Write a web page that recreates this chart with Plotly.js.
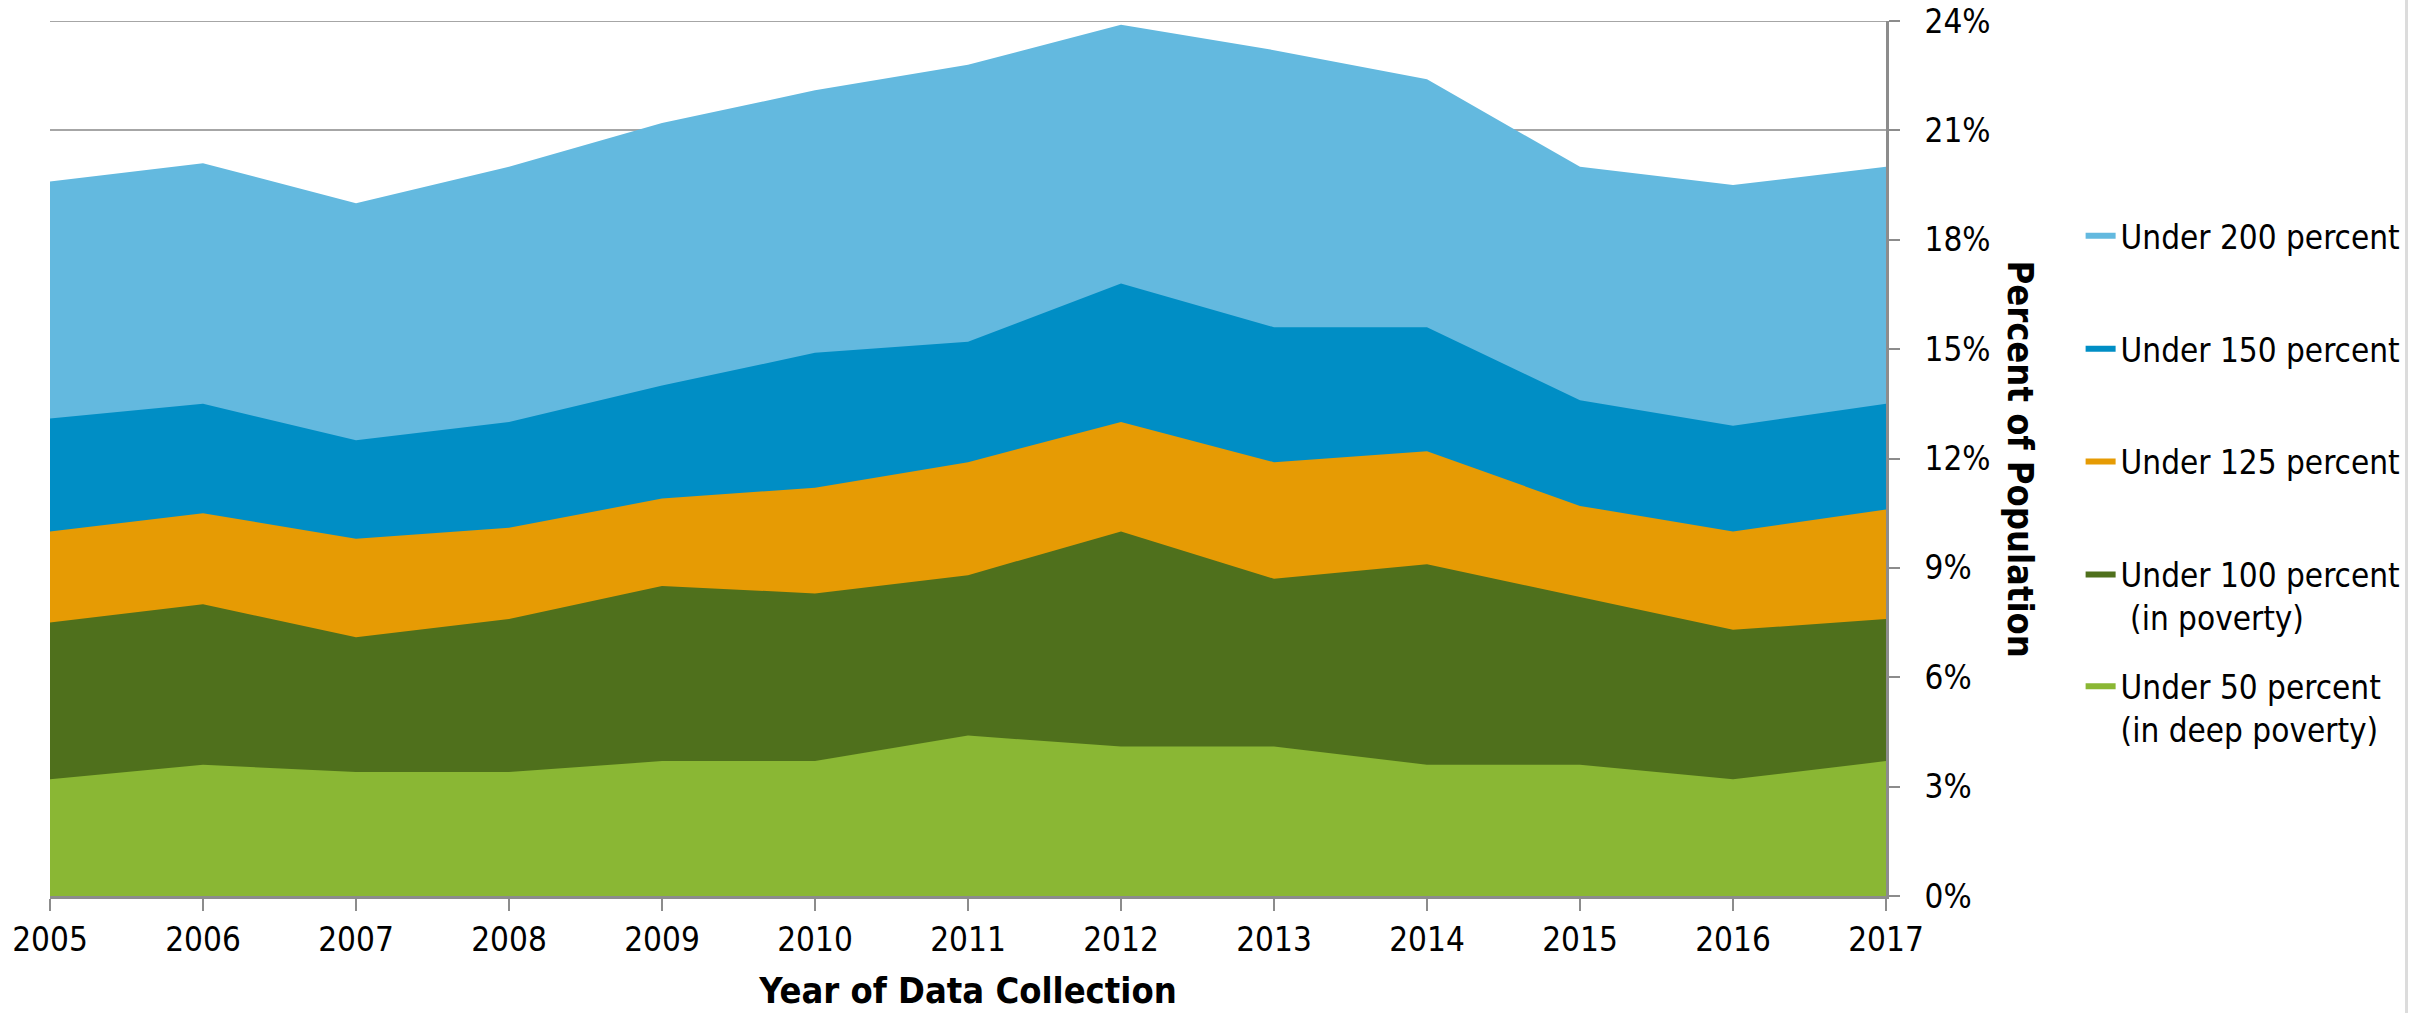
<!DOCTYPE html>
<html>
<head>
<meta charset="utf-8">
<script src="https://cdn.plot.ly/plotly-3.0.1.min.js"></script>
<style>
  html, body { margin: 0; padding: 0; background: #fff; }
  #chart { width: 2418px; height: 1013px; }
</style>
</head>
<body>
<div id="chart"></div>
<script>
  // share of population under each income-to-poverty threshold (cumulative levels, %)
  var years = [2005, 2006, 2007, 2008, 2009, 2010, 2011, 2012, 2013, 2014, 2015, 2016, 2017];
  var under200 = [19.6, 20.1, 19.0, 20.0, 21.2, 22.1, 22.8, 23.9, 23.2, 22.4, 20.0, 19.5, 20.0];
  var under150 = [13.1, 13.5, 12.5, 13.0, 14.0, 14.9, 15.2, 16.8, 15.6, 15.6, 13.6, 12.9, 13.5];
  var under125 = [10.0, 10.5, 9.8, 10.1, 10.9, 11.2, 11.9, 13.0, 11.9, 12.2, 10.7, 10.0, 10.6];
  var under100 = [7.5, 8.0, 7.1, 7.6, 8.5, 8.3, 8.8, 10.0, 8.7, 9.1, 8.2, 7.3, 7.6];
  var under50 = [3.2, 3.6, 3.4, 3.4, 3.7, 3.7, 4.4, 4.1, 4.1, 3.6, 3.6, 3.2, 3.7];

  var seriesNames = [
    'Under 200 percent',
    'Under 150 percent',
    'Under 125 percent',
    'Under 100 percent<br>&nbsp;(in poverty)',
    'Under 50 percent<br>(in deep poverty)'
  ];
  var seriesValues = [under200, under150, under125, under100, under50];
  var seriesColors = ['#63b9df', '#008ec5', '#e69b04', '#4f701c', '#8ab734'];
  var yTicks = [0, 3, 6, 9, 12, 15, 18, 21, 24];

  var font = 'DejaVu Sans Condensed, DejaVu Sans, sans-serif';

  var data = [];
  for (var i = 0; i < seriesValues.length; i++) {
    data.push({
      x: years,
      y: seriesValues[i],
      name: seriesNames[i],
      type: 'scatter',
      mode: 'none',
      fill: 'tozeroy',
      fillcolor: seriesColors[i],
      legendgroup: 'g' + i,
      // last item sits in its own legend so the spacing stays even
      legend: i < 4 ? 'legend' : 'legend2',
      hoverinfo: 'x+y+name'
    });
  }

  var legendBase = {
    font: {family: font, size: 33, color: '#000'},
    bgcolor: 'rgba(0,0,0,0)',
    xanchor: 'left',
    yanchor: 'top',
    x: 1.106,
    valign: 'top',
    traceorder: 'grouped',
    tracegroupgap: 67
  };

  var layout = {
    width: 2418,
    height: 1013,
    margin: {l: 50, r: 530, t: 21, b: 117},
    paper_bgcolor: '#fff',
    plot_bgcolor: '#fff',
    font: {family: font, size: 33, color: '#000'},
    showlegend: true,
    legend: Object.assign({}, legendBase, {y: 0.7865}),
    legend2: Object.assign({}, legendBase, {y: 0.2716}),
    xaxis: {
      range: [2005, 2017],
      tickvals: years,
      ticktext: years.map(String),
      showgrid: false,
      zeroline: false,
      showline: true,
      linecolor: '#8c8c8c',
      linewidth: 3,
      ticks: 'outside',
      ticklen: 12,
      tickwidth: 2,
      tickcolor: '#8c8c8c',
      tickfont: {family: font, size: 33, color: '#000'},
      title: {
        text: '<b>Year of Data Collection</b>',
        font: {family: font, size: 36, color: '#000'},
        standoff: 21
      },
      automargin: false
    },
    yaxis: {
      range: [0, 24],
      side: 'right',
      tickvals: yTicks,
      ticktext: yTicks.map(function (v) { return v + '%'; }),
      showgrid: true,
      gridcolor: '#a6a6a6',
      gridwidth: 2,
      zeroline: false,
      showline: true,
      linecolor: '#8c8c8c',
      linewidth: 3,
      ticks: 'outside',
      ticklen: 11,
      tickwidth: 2,
      tickcolor: '#8c8c8c',
      ticklabelstandoff: 18,
      tickfont: {family: font, size: 33, color: '#000'},
      automargin: false
    },
    annotations: [{
      text: '<b>Percent of Population</b>',
      xref: 'paper',
      yref: 'paper',
      x: 1.073,
      y: 0.5,
      xanchor: 'center',
      yanchor: 'middle',
      textangle: 90,
      showarrow: false,
      font: {family: font, size: 36, color: '#000'}
    }],
    shapes: [
      {
        // top gridline at 24%, which plotly skips at the plot edge
        type: 'line',
        xref: 'paper',
        yref: 'y',
        x0: 0,
        x1: 1,
        y0: 24,
        y1: 24,
        layer: 'below',
        line: {color: '#a6a6a6', width: 2}
      },
      {
        type: 'line',
        xref: 'paper',
        yref: 'paper',
        x0: 1.2835,
        x1: 1.2835,
        y0: -0.14,
        y1: 1.03,
        line: {color: '#dcdcdc', width: 3}
      }
    ]
  };

  Plotly.newPlot('chart', data, layout, {displayModeBar: false, staticPlot: true});
</script>
</body>
</html>
